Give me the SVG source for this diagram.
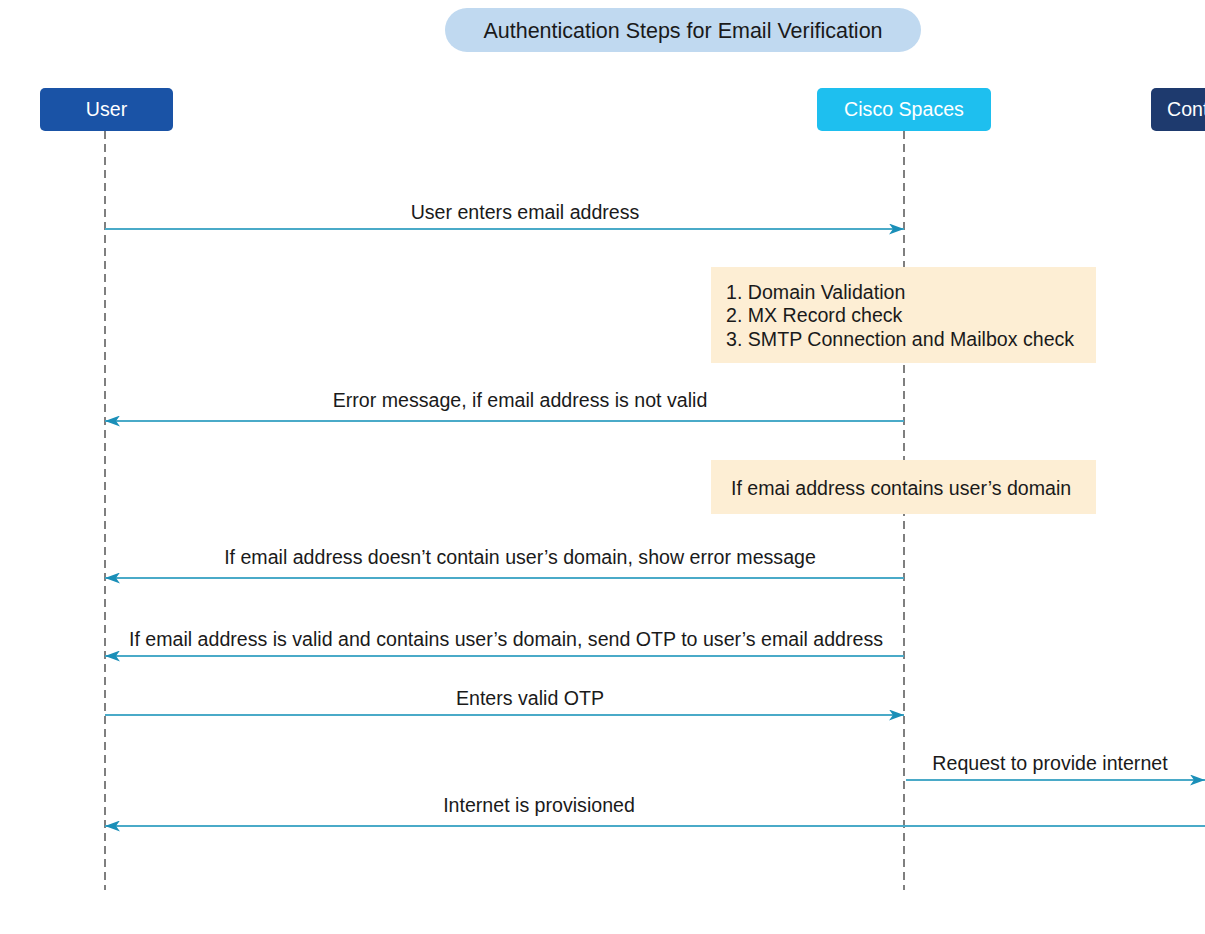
<svg xmlns="http://www.w3.org/2000/svg" width="1205" height="934" viewBox="0 0 1205 934">
<style>
text{font-family:"Liberation Sans",Arial,sans-serif;font-size:19.6px;fill:#1a1a1a}
.hd{fill:#ffffff;text-anchor:middle}
.lbl{text-anchor:middle}
.life{stroke:#555;stroke-width:1.5;stroke-dasharray:8 5;fill:none}
.msg{stroke:#4aaac8;stroke-width:2.2;fill:none;marker-end:url(#ah)}
.note{fill:#fdeed4}
</style>
<defs>
<marker id="ah" viewBox="0 0 15 11" refX="15" refY="5.5" markerWidth="15" markerHeight="11" markerUnits="userSpaceOnUse" orient="auto">
<path d="M0,0 L15,5.5 L0,11 L4,5.5 Z" fill="#1a8fb8"/>
</marker>
</defs>
<rect width="1205" height="934" fill="#ffffff"/>
<g id="title">
<rect x="445" y="8" width="476" height="44" rx="22" fill="#c0d9f0"/>
<text class="lbl" x="683" y="38" style="font-size:21.5px">Authentication Steps for Email Verification</text>
</g>
<g id="lifelines">
<line class="life" x1="105" y1="131" x2="105" y2="890"/>
<line class="life" x1="904" y1="131" x2="904" y2="890"/>
</g>
<g id="user">
<rect x="40" y="88" width="133" height="43" rx="5" fill="#1a53a6"/>
<text class="hd" x="106.5" y="116">User</text>
</g>
<g id="cisco">
<rect x="817" y="88" width="174" height="43" rx="5" fill="#1ebfef"/>
<text class="hd" x="904" y="116">Cisco Spaces</text>
</g>
<g id="controller">
<rect x="1151" y="88" width="80" height="43" rx="5" fill="#1e3a6e"/>
<text x="1167" y="116" style="fill:#ffffff">Cont</text>
</g>
<g id="note1">
<rect class="note" x="711" y="267" width="385" height="96"/>
<text x="726" y="299">1. Domain Validation</text>
<text x="726" y="322">2. MX Record check</text>
<text x="726" y="346">3. SMTP Connection and Mailbox check</text>
</g>
<g id="note2">
<rect class="note" x="711" y="460" width="385" height="54"/>
<text x="731" y="495">If emai address contains user’s domain</text>
</g>
<g id="connectors">
<line class="msg" x1="105" y1="229" x2="904" y2="229"/>
<text class="lbl" x="525" y="219">User enters email address</text>
<line class="msg" x1="904" y1="421" x2="105" y2="421"/>
<text class="lbl" x="520" y="407">Error message, if email address is not valid</text>
<line class="msg" x1="904" y1="578" x2="105" y2="578"/>
<text class="lbl" x="520" y="564">If email address doesn’t contain user’s domain, show error message</text>
<line class="msg" x1="904" y1="656" x2="105" y2="656"/>
<text class="lbl" x="506" y="646">If email address is valid and contains user’s domain, send OTP to user’s email address</text>
<line class="msg" x1="105" y1="715" x2="904" y2="715"/>
<text class="lbl" x="530" y="705">Enters valid OTP</text>
<line class="msg" x1="906" y1="780" x2="1205" y2="780"/>
<text class="lbl" x="1050" y="770">Request to provide internet</text>
<line class="msg" x1="1205" y1="826" x2="105" y2="826"/>
<text class="lbl" x="539" y="812">Internet is provisioned</text>
</g>
</svg>
